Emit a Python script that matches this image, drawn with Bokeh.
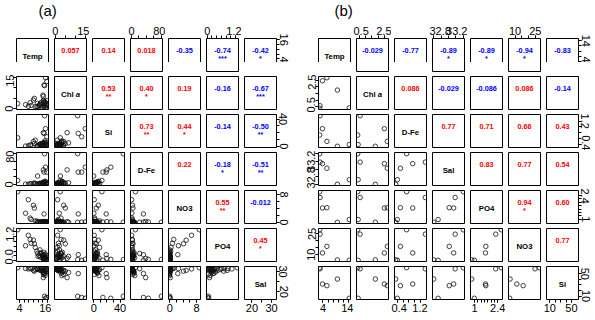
from bokeh.plotting import figure
from bokeh.models import Range1d, LinearAxis, FixedTicker
from bokeh.layouts import gridplot, column
from bokeh.core.properties import value
from bokeh.embed import file_html
from bokeh.resources import INLINE

FONT = "Liberation Sans"

# ---------------- panel (a): survey stations ----------------
A_NAMES = ["Temp", "Chl a", "Si", "D-Fe", "NO3", "PO4", "Sal"]
a_temp = [3.2, 7.8, 10.0, 10.4, 6.6, 8.6, 9.0, 14.8, 15.2, 15.8, 14.3, 14.6,
          12.0, 12.5, 13.0, 13.4, 13.8, 14.0, 14.2, 14.5, 14.7, 14.9, 15.1, 15.3,
          15.5, 15.7, 15.9, 11.5, 13.2, 14.4, 15.0, 12.8, 16.0, 14.1, 10.8, 11.8]
a_chl = [2.4, 1.1, 4.1, 4.9, 1.9, 2.8, 1.5, 11.0, 14.8, 13.0, 5.8, 11.3,
         0.8, 1.5, 2.2, 3.0, 0.5, 1.2, 2.6, 3.4, 0.9, 1.8, 2.9, 0.6,
         1.4, 2.3, 3.8, 1.0, 0.15, 4.0, 3.2, 2.0, 1.7, 6.5, 0.9, 2.5]
a_si = [12.5, 0.8, 7.0, 4.0, 0.3, 1.5, 2.0, 45.0, 26.0, 14.0, 20.0, 19.0,
        1.2, 2.5, 0.5, 3.1, 1.8, 4.2, 2.2, 5.5, 0.9, 3.6, 6.0, 1.4,
        2.8, 4.8, 2.0, 0.4, 3.8, 1.0, 8.0, 2.9, 0.2, 5.0, 9.0, 0.0]
a_dfe = [10.5, 0.5, 2.5, 4.0, 1.0, 1.5, 2.0, 80.0, 45.0, 32.0, 38.0, 32.0,
         1.0, 2.0, 0.8, 3.5, 1.2, 5.0, 2.5, 6.5, 0.6, 4.2, 7.0, 1.8,
         3.0, 2.2, 5.5, 0.9, 1.5, 3.8, 8.5, 2.8, 0.5, 4.5, 1.8, 22.0]
a_no3 = [8.8, 6.5, 4.9, 4.1, 2.6, 1.2, 0.8, 0.0, 0.1, 0.05, 0.2, 2.4,
         0.05, 0.0, 0.1, 0.0, 0.2, 0.0, 0.05, 0.0, 0.0, 0.15, 0.0, 0.0,
         0.05, 0.0, 0.1, 0.3, 0.0, 0.0, 0.0, 0.05, 0.0, 0.0, 0.4, 0.0]
a_po4 = [1.28, 1.05, 0.85, 0.70, 0.62, 0.88, 0.72, 0.05, 0.06, 0.02, 0.10, 0.25,
         0.18, 0.22, 0.15, 0.30, 0.12, 0.25, 0.20, 0.35, 0.08, 0.16, 0.28, 0.10,
         0.14, 0.06, 0.20, 0.40, 0.33, 0.04, 0.12, 0.45, 0.02, 0.18, 0.55, 0.30]
a_sal = [31.9, 31.3, 30.6, 30.2, 31.5, 31.6, 31.4, 17.8, 16.8, 17.2, 27.0, 29.0,
         31.2, 31.0, 31.5, 30.8, 31.6, 30.5, 30.9, 29.8, 31.3, 30.3, 29.2, 31.1,
         30.7, 31.0, 30.1, 31.4, 31.7, 28.6, 28.0, 30.6, 31.2, 29.5, 31.0, 31.4]
A_DATA = {"Temp": a_temp, "Chl a": a_chl, "Si": a_si, "D-Fe": a_dfe,
          "NO3": a_no3, "PO4": a_po4, "Sal": a_sal}
A_TICKS = {"Temp": [4, 6, 8, 10, 12, 14, 16], "Chl a": [0, 5, 10, 15],
           "Si": [0, 10, 20, 30, 40], "D-Fe": [0, 20, 40, 60, 80],
           "NO3": [0, 2, 4, 6, 8], "PO4": [0, 0.2, 0.4, 0.6, 0.8, 1.0, 1.2],
           "Sal": [20, 25, 30]}
A_XLAB = {"Temp": ("4", "16"), "Chl a": ("0", "15"), "Si": ("0", "40"),
          "D-Fe": ("0", "80"), "NO3": ("0", "8"), "PO4": ("0", "1.2"), "Sal": ("20", "30")}
A_YLAB = dict(A_XLAB, PO4=("0.0", "1.2"))
# Spearman coefficients, upper triangle row by row, with significance marks
A_CORR = ["0.057", "0.14", "0.018", "-0.35", "-0.74", "-0.42",
          "0.53", "0.40", "0.19", "-0.16", "-0.67",
          "0.73", "0.44", "-0.14", "-0.50",
          "0.22", "-0.18", "-0.51",
          "0.55", "-0.012",
          "0.45"]
A_STARS = ["", "", "", "", "***", "*",
           "**", "*", "", "", "***",
           "**", "*", "", "**",
           "", "*", "**",
           "**", "",
           "*"]

# ---------------- panel (b): incubation series ----------------
B_NAMES = ["Temp", "Chl a", "D-Fe", "Sal", "PO4", "NO3", "Si"]
b_temp = [2.7, 2.85, 3.8, 5.55, 9.7, 14.4]
b_chl = [0.39, 0.58, 2.46, 2.69, 1.76, 0.425]
b_dfe = [0.72, 1.39, 0.94, 0.50, 0.33, 0.39]
b_sal = [33.20, 33.09, 33.07, 33.01, 32.80, 32.86]
b_po4 = [2.62, 2.28, 1.66, 1.68, 0.82, 0.98]
b_no3 = [28.0, 24.8, 11.3, 16.0, 6.3, 6.0]
b_si = [61.0, 59.0, 31.7, 28.7, 40.6, 6.0]
B_DATA = {"Temp": b_temp, "Chl a": b_chl, "D-Fe": b_dfe, "Sal": b_sal,
          "PO4": b_po4, "NO3": b_no3, "Si": b_si}
B_TICKS = {"Temp": [4, 6, 8, 10, 12, 14], "Chl a": [0.5, 1.0, 1.5, 2.0, 2.5],
           "D-Fe": [0.4, 0.6, 0.8, 1.0, 1.2], "Sal": [32.8, 32.9, 33.0, 33.1, 33.2],
           "PO4": [1.0, 1.2, 1.4, 1.6, 1.8, 2.0, 2.2, 2.4], "NO3": [10, 15, 20, 25],
           "Si": [10, 20, 30, 40, 50]}
B_XLAB = {"Temp": ("4", "14"), "Chl a": ("0.5", "2.5"), "D-Fe": ("0.4", "1.2"),
          "Sal": ("32.8", "33.2"), "PO4": ("1", "2.4"), "NO3": ("10", "25"), "Si": ("10", "50")}
B_YLAB = B_XLAB
B_CORR = ["-0.029", "-0.77", "-0.89", "-0.89", "-0.94", "-0.83",
          "0.086", "-0.029", "-0.086", "0.086", "-0.14",
          "0.77", "0.71", "0.66", "0.43",
          "0.83", "0.77", "0.54",
          "0.94", "0.60",
          "0.77"]
B_STARS = ["", "", "*", "*", "*", "",
           "", "", "", "", "",
           "", "", "", "",
           "", "", "",
           "*", "",
           ""]

PANEL_TITLES = ["(a)", "(b)"]

FRAME_W, FRAME_H = 32, 33
TOP = [0, 2, 2, 2, 2, 2, 2]
BOTTOM = [3, 3, 3, 3, 3, 3, 18]
HEADER_H = 23


def var_range(vals):
    lo, hi = min(vals), max(vals)
    pad = 0.04 * (hi - lo)
    return lo - pad, hi + pad


def make_axis(ticks, labels, vertical, shown=True):
    ax = LinearAxis(ticker=FixedTicker(ticks=[ticks[0], ticks[-1]], minor_ticks=list(ticks)),
                    bounds=(ticks[0], ticks[-1]))
    ax.major_label_overrides = {ticks[0]: labels[0], ticks[-1]: labels[1]}
    ax.major_tick_out = 3
    ax.major_tick_in = 0
    ax.minor_tick_out = 3
    ax.minor_tick_in = 0
    ax.major_label_standoff = 0 if vertical else 1
    ax.major_label_text_font = FONT
    ax.major_label_text_font_size = "11px"
    if vertical:
        ax.major_label_orientation = "vertical"
    if shown:
        ax.axis_line_color = "black"
        ax.major_tick_line_color = "black"
        ax.minor_tick_line_color = "black"
        ax.major_label_text_color = "black"
    else:
        # same footprint as a drawn axis, so every frame in the row lines up
        ax.axis_line_color = None
        ax.major_tick_line_color = None
        ax.minor_tick_line_color = None
        ax.major_label_text_alpha = 0
    return ax


def pairs_panel(names, data, ticks, xlab, ylab, corr, stars, lefts, rights):
    n = len(names)
    rngs = {nm: var_range(data[nm]) for nm in names}
    rows = []
    k = 0
    for i in range(n):
        row = []
        for j in range(n):
            xn, yn = names[j], names[i]
            x0, x1 = rngs[xn]
            y0, y1 = rngs[yn]
            p = figure(frame_width=FRAME_W, frame_height=FRAME_H,
                       x_range=Range1d(x0, x1), y_range=Range1d(y0, y1),
                       x_axis_location=None, y_axis_location=None,
                       tools="", toolbar_location=None, output_backend="svg",
                       min_border_left=lefts[j], min_border_right=rights[j],
                       min_border_top=TOP[i], min_border_bottom=BOTTOM[i])
            p.grid.grid_line_color = None
            p.outline_line_color = "black"
            p.outline_line_width = 1
            p.background_fill_color = "white"
            p.border_fill_color = "white"
            xm = (x0 + x1) / 2
            if i > j:
                p.scatter(x=data[xn], y=data[yn], marker="circle", size=4.5,
                          fill_color=None, line_color="#111111", line_width=0.8)
            elif i == j:
                yc = y0 + 0.46 * (y1 - y0)
                if yn == "Chl a":
                    p.text(x=[xm], y=[yc], text=["Chl"], x_offset=-9.5,
                           text_align="left", text_baseline="middle",
                           text_font=value(FONT), text_font_style="bold",
                           text_font_size="7.8px", text_color="black")
                    p.text(x=[xm], y=[yc], text=["a"], x_offset=5.2,
                           text_align="left", text_baseline="middle",
                           text_font=value(FONT), text_font_style="bold italic",
                           text_font_size="7.8px", text_color="black")
                else:
                    p.text(x=[xm], y=[yc], text=[yn], text_align="center",
                           text_baseline="middle", text_font=value(FONT),
                           text_font_style="bold", text_font_size="7.8px",
                           text_color="black")
            else:
                txt = corr[k]
                col = "blue" if txt.startswith("-") else "red"
                p.text(x=[xm], y=[y0 + 0.65 * (y1 - y0)], text=[txt],
                       text_align="center", text_baseline="middle",
                       text_font=value(FONT), text_font_style="bold",
                       text_font_size="7.3px", text_color=col)
                if stars[k]:
                    p.text(x=[xm], y=[y0 + 0.38 * (y1 - y0)], text=[stars[k]],
                           text_align="center", text_baseline="middle",
                           text_font=value(FONT), text_font_style="bold",
                           text_font_size="7.3px", text_color=col)
                k += 1
            # outer axes alternate sides, as in a scatterplot matrix
            if i == 0:
                p.add_layout(make_axis(ticks[xn], xlab[xn], False, j % 2 == 1), "above")
            if i == n - 1 and j % 2 == 0:
                p.add_layout(make_axis(ticks[xn], xlab[xn], False), "below")
            if j == 0 and i % 2 == 1:
                p.add_layout(make_axis(ticks[yn], ylab[yn], True), "left")
            if j == n - 1 and i % 2 == 0:
                p.add_layout(make_axis(ticks[yn], ylab[yn], True), "right")
            row.append(p)
        rows.append(row)
    return rows


rows_a = pairs_panel(A_NAMES, A_DATA, A_TICKS, A_XLAB, A_YLAB, A_CORR, A_STARS,
                     [16, 3, 3, 3, 3, 3, 3], [3, 3, 3, 3, 3, 3, 26])
rows_b = pairs_panel(B_NAMES, B_DATA, B_TICKS, B_XLAB, B_YLAB, B_CORR, B_STARS,
                     [16, 3, 3, 3, 3, 3, 3], [3, 3, 3, 3, 3, 3, 17])

grid = gridplot([ra + rb for ra, rb in zip(rows_a, rows_b)], toolbar_location=None)

# header strip carrying the panel letters
header = figure(width=595, height=HEADER_H, x_range=Range1d(0, 595), y_range=Range1d(0, HEADER_H),
                x_axis_location=None, y_axis_location=None, tools="", toolbar_location=None,
                output_backend="svg", min_border=0, align="start")
header.grid.grid_line_color = None
header.outline_line_color = None
header.text(x=[38, 334], y=[HEADER_H - 10] * 2, text=PANEL_TITLES, text_align="left",
            text_baseline="middle", text_font=value(FONT), text_font_size="15px",
            text_color="black")

page = column(header, grid)

html = file_html(page, INLINE)
html = html.replace("<head>", "<head><style>html,body{margin:0;overflow:hidden}</style>", 1)
open("out.html", "w").write(html)
